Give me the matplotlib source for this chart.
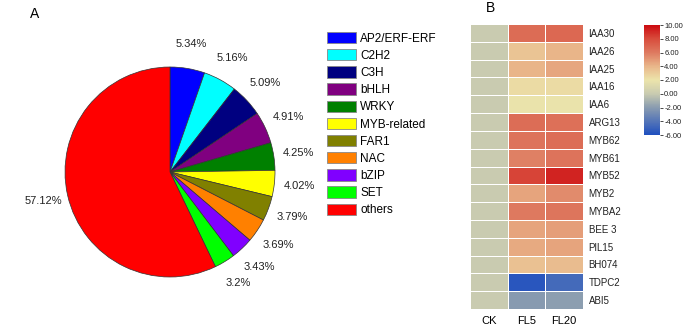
import matplotlib
matplotlib.use("Agg")
import matplotlib.pyplot as plt
import numpy as np
from matplotlib.colors import LinearSegmentedColormap, Normalize
from matplotlib.patches import Patch

plt.rcParams['font.family'] = ['Liberation Sans', 'DejaVu Sans']

# ---- Pie data ----
families = ["AP2/ERF-ERF", "C2H2", "C3H", "bHLH", "WRKY", "MYB-related",
            "FAR1", "NAC", "bZIP", "SET", "others"]
percents = [5.34, 5.16, 5.09, 4.91, 4.25, 4.02, 3.79, 3.69, 3.43, 3.2, 57.12]
pie_colors = ["#0000ff", "#00ffff", "#000080", "#800080", "#008000", "#ffff00",
              "#808000", "#ff8000", "#8000ff", "#00ff00", "#ff0000"]

# ---- Heatmap data ----
genes = ["IAA30", "IAA26", "IAA25", "IAA16", "IAA6", "ARG13", "MYB62", "MYB61",
         "MYB52", "MYB2", "MYBA2", "BEE 3", "PIL15", "BH074", "TDPC2", "ABI5"]
samples = ["CK", "FL5", "FL20"]
ck = [0.0] * 16
fl5 = [6.6, 3.4, 4.0, 2.4, 1.9, 6.5, 6.3, 5.8, 8.2, 4.6, 6.0, 4.6, 4.4, 3.5, -5.6, -2.1]
fl20 = [6.8, 4.0, 4.5, 2.4, 1.9, 6.4, 6.5, 6.3, 9.2, 5.4, 6.2, 4.8, 4.6, 3.7, -4.6, -1.9]
cbar_ticks = [10, 8, 6, 4, 2, 0, -2, -4, -6]

fig = plt.figure(figsize=(6.85, 3.32), dpi=100)
W, H = 685, 332

def px(x0, y0, x1, y1):
    return [x0 / W, 1 - y1 / H, (x1 - x0) / W, (y1 - y0) / H]

# ---- Pie ----
cx, cy, r = 170, 172, 105
axp = fig.add_axes(px(cx - r, cy - r, cx + r, cy + r))
wedges, texts = axp.pie(percents, colors=pie_colors, startangle=90, counterclock=False,
                        labels=[f"{v:g}%" for v in percents], labeldistance=1.24,
                        wedgeprops=dict(edgecolor="#333333", linewidth=0.5),
                        textprops=dict(fontsize=8, color="#222222"))
for t in texts:
    t.set_ha("center")
    t.set_va("center")
axp.set_aspect("equal")
axp.set_xlim(-1, 1)
axp.set_ylim(-1, 1)

handles = [Patch(facecolor=c, edgecolor="#888888", linewidth=0.6) for c in pie_colors]
fig.legend(handles, families, loc="upper left", bbox_to_anchor=(327 / W, 1 - 32 / H),
           frameon=False, fontsize=8.5, handlelength=2.45, handleheight=1.1,
           handletextpad=0.35, labelspacing=0.38, borderaxespad=0, borderpad=0)

fig.text(30 / W, 1 - 14 / H, "A", fontsize=10, va="center", ha="left")
fig.text(486 / W, 1 - 8 / H, "B", fontsize=10, va="center", ha="left")

# ---- Heatmap ----
cmap = LinearSegmentedColormap.from_list("hm", [
    (0.0, "#1f4fbf"),
    ((-2 + 6) / 16, "#8a9cb0"),
    ((0 + 6) / 16, "#c9cbb0"),
    ((2 + 6) / 16, "#ece4ab"),
    ((4 + 6) / 16, "#e9b68a"),
    ((6 + 6) / 16, "#de7a60"),
    ((8 + 6) / 16, "#d84c3c"),
    (1.0, "#cc0a10"),
])
norm = Normalize(vmin=-6, vmax=10)
data = np.array([ck, fl5, fl20]).T
axh = fig.add_axes(px(470, 24, 583, 309))
axh.pcolormesh(data, cmap=cmap, norm=norm, edgecolors="white", linewidth=0.5)
axh.set_xlim(0, 3)
axh.set_ylim(len(genes), 0)
axh.set_xticks(np.arange(3) + 0.5)
axh.set_xticklabels(samples, fontsize=8)
axh.set_yticks(np.arange(len(genes)) + 0.5)
axh.set_yticklabels(genes, fontsize=7, color="#222222")
axh.yaxis.tick_right()
axh.tick_params(length=0, pad=4)
axh.tick_params(axis="x", pad=5)
for s in axh.spines.values():
    s.set_visible(False)

axc = fig.add_axes(px(644, 25, 660, 135))
sm = matplotlib.cm.ScalarMappable(norm=norm, cmap=cmap)
cb = fig.colorbar(sm, cax=axc, ticks=cbar_ticks)
cb.ax.set_yticklabels([f"{t:.2f}" for t in cbar_ticks], fontsize=5.5, color="#222222")
cb.ax.tick_params(length=2, width=0.5, pad=1)
cb.outline.set_visible(False)

fig.savefig("out.png", dpi=100)
